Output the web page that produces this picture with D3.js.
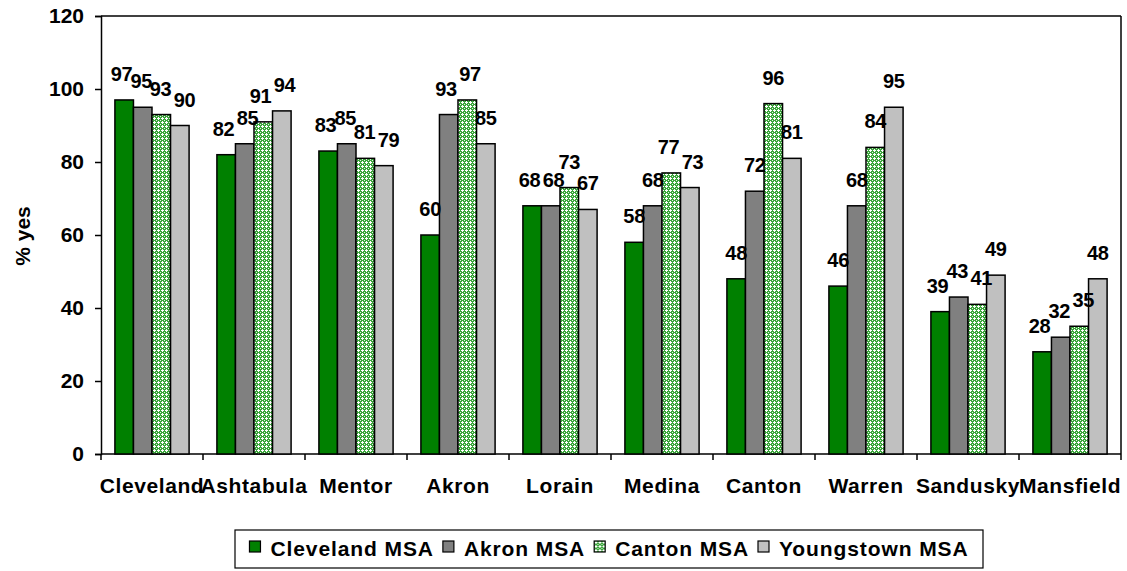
<!DOCTYPE html>
<html>
<head>
<meta charset="utf-8">
<script src="https://cdn.jsdelivr.net/npm/d3@7"></script>
<style>
  html, body { margin: 0; padding: 0; background: #fff; }
  svg { display: block; font-family: "Liberation Sans", Arial, sans-serif; font-weight: bold; }
</style>
</head>
<body>
<svg id="chart" width="1127" height="571"></svg>
<script>
const categories = ["Cleveland", "Ashtabula", "Mentor", "Akron", "Lorain", "Medina", "Canton", "Warren", "Sandusky", "Mansfield"];
const seriesNames = ["Cleveland MSA", "Akron MSA", "Canton MSA", "Youngstown MSA"];
const clevelandMSA = [97, 82, 83, 60, 68, 58, 48, 46, 39, 28];
const akronMSA = [95, 85, 85, 93, 68, 68, 72, 68, 43, 32];
const cantonMSA = [93, 91, 81, 97, 73, 77, 96, 84, 41, 35];
const youngstownMSA = [90, 94, 79, 85, 67, 73, 81, 95, 49, 48];
const yTicks = [0, 20, 40, 60, 80, 100, 120];
const yTitle = "% yes";

const seriesValues = [clevelandMSA, akronMSA, cantonMSA, youngstownMSA];
const fills = ["#008000", "#808080", "url(#canton)", "#c0c0c0"];

const svg = d3.select("#chart");
const defs = svg.append("defs");
const pat = defs.append("pattern").attr("id", "canton")
  .attr("patternUnits", "userSpaceOnUse").attr("width", 4).attr("height", 4);
pat.append("rect").attr("width", 4).attr("height", 4).attr("fill", "#3aa53a");
pat.append("rect").attr("x", 1).attr("y", 2).attr("width", 3).attr("height", 1).attr("fill", "#ffffff");
pat.append("rect").attr("x", 2).attr("y", 1).attr("width", 1).attr("height", 3).attr("fill", "#ffffff");
pat.append("rect").attr("x", 0).attr("y", 0).attr("width", 1).attr("height", 1).attr("fill", "#e6f4e6");

const L = 101, R = 1121, T = 16, B = 454;
const x = d3.scaleBand().domain(categories).range([L, R]).padding(0);
const xs = d3.scaleBand().domain(seriesNames).range([0, x.bandwidth()]).paddingInner(0).paddingOuter(0.75);
const y = d3.scaleLinear().domain([0, 120]).range([B, T]);

// plot frame (top and right)
svg.append("line").attr("x1", L).attr("x2", R).attr("y1", T).attr("y2", T).attr("stroke", "#000").attr("stroke-width", 1.5);
svg.append("line").attr("x1", R).attr("x2", R).attr("y1", T).attr("y2", B).attr("stroke", "#000").attr("stroke-width", 1.5);

// y axis
const yAxis = d3.axisLeft(y).tickValues(yTicks).tickSize(6).tickPadding(11);
const gy = svg.append("g").attr("transform", `translate(${L},0)`).call(yAxis);
gy.select(".domain").attr("stroke", "#000").attr("stroke-width", 1.5);
gy.selectAll(".tick line").attr("stroke", "#000").attr("stroke-width", 1.5);
gy.selectAll(".tick text").attr("font-size", 21).attr("font-weight", "bold")
  .attr("font-family", "Liberation Sans, Arial, sans-serif").attr("fill", "#000");

// x axis (ticks at category boundaries)
const gx = svg.append("g").attr("transform", `translate(0,${B})`);
gx.append("line").attr("x1", L).attr("x2", R).attr("stroke", "#000").attr("stroke-width", 1.5);
const boundaries = categories.map(c => x(c)).concat([x(categories[categories.length - 1]) + x.bandwidth()]);
gx.selectAll("line.tk").data(boundaries).join("line").attr("class", "tk")
  .attr("x1", d => d).attr("x2", d => d).attr("y1", 0).attr("y2", 6)
  .attr("stroke", "#000").attr("stroke-width", 1.5);
gx.selectAll("text.cat").data(categories).join("text").attr("class", "cat")
  .attr("x", d => x(d) + x.bandwidth() / 2).attr("y", 39)
  .attr("text-anchor", "middle").attr("font-size", 21).attr("letter-spacing", "0.6px")
  .text(d => d);

// bars
const flat = [];
seriesValues.forEach((vals, si) => {
  vals.forEach((v, ci) => flat.push({ s: seriesNames[si], si, ci, c: categories[ci], v }));
});
svg.append("g").selectAll("rect").data(flat).join("rect")
  .attr("x", d => x(d.c) + xs(d.s))
  .attr("y", d => y(d.v))
  .attr("width", xs.bandwidth())
  .attr("height", d => B - y(d.v))
  .attr("fill", d => fills[d.si])
  .attr("stroke", "#000").attr("stroke-width", 1.5);

// value labels with simple collision nudging between neighbours
const labels = flat.map(d => ({ ...d, lx: x(d.c) + xs(d.s) + xs.bandwidth() / 2, ly: y(d.v) - 19 }));
const labelW = 22;
categories.forEach((c, ci) => {
  const grp = labels.filter(l => l.ci === ci).sort((a, b) => a.si - b.si);
  for (let i = 0; i < grp.length - 1; i++) {
    const a = grp[i], b = grp[i + 1];
    if (Math.abs(a.ly - b.ly) < 16.5) {
      const overlap = labelW - (b.lx - a.lx) + 2;
      if (overlap > 0) { a.lx -= overlap / 2; b.lx += overlap / 2; }
    }
  }
});
svg.append("g").selectAll("text").data(labels).join("text")
  .attr("x", d => d.lx)
  .attr("y", d => d.ly)
  .attr("text-anchor", "middle").attr("font-size", 20).attr("letter-spacing", "-0.3px")
  .text(d => d.v);

// y title
svg.append("text").attr("transform", "translate(30,236) rotate(-90)")
  .attr("text-anchor", "middle").attr("font-size", 21).text(yTitle);

// legend
const lg = svg.append("g");
const box = lg.append("rect").attr("fill", "#fff").attr("stroke", "#000").attr("stroke-width", 1.2);
let cx = 0;
seriesNames.forEach((name, i) => {
  const g = lg.append("g");
  g.append("rect").attr("x", cx).attr("y", -15).attr("width", 11).attr("height", 11)
    .attr("fill", fills[i]).attr("stroke", "#000").attr("stroke-width", 1.2);
  const t = g.append("text").attr("x", cx + 21).attr("y", 0).attr("font-size", 21)
    .attr("letter-spacing", "0.9px").text(name);
  const w = t.node().getComputedTextLength();
  cx += 21 + w + 9;
});
const totalW = cx - 9;
const boxW = 748, boxX = 235, boxY = 530, boxH = 38;
box.attr("x", boxX).attr("y", boxY).attr("width", boxW).attr("height", boxH);
lg.selectAll("g").attr("transform", `translate(${boxX + (boxW - totalW) / 2},${boxY + 26})`);
</script>
</body>
</html>
